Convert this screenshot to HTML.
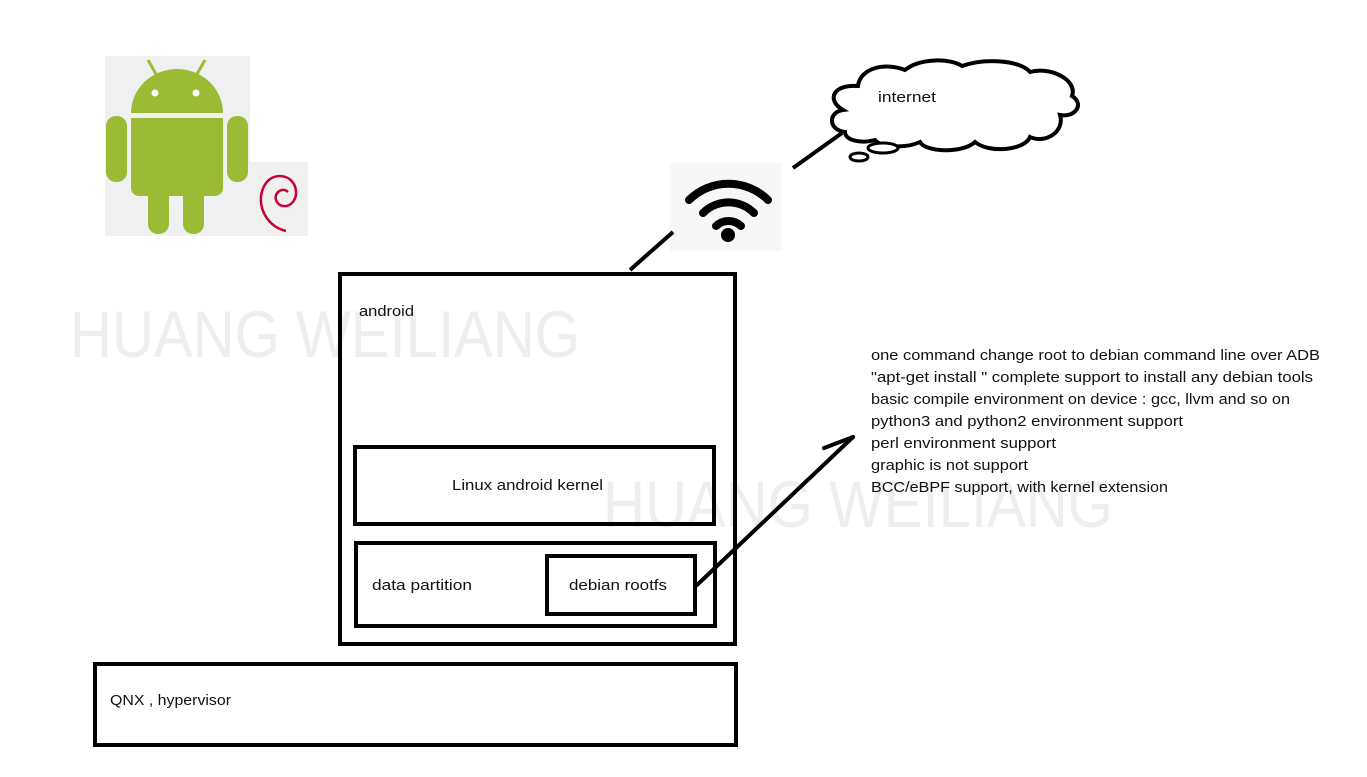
<!DOCTYPE html>
<html><head><meta charset="utf-8"><style>
html,body{margin:0;padding:0;background:#fff;}
svg{display:block;}
text{font-family:"Liberation Sans",sans-serif;fill:#111;}
</style></head><body>
<svg width="1367" height="777" viewBox="0 0 1367 777" xmlns="http://www.w3.org/2000/svg">
<rect width="1367" height="777" fill="#fff"/>
<!-- watermarks -->
<text x="70" y="357" font-size="66" textLength="510" lengthAdjust="spacingAndGlyphs" style="fill:#eeeeee">HUANG WEILIANG</text>
<text x="603" y="527" font-size="66" textLength="510" lengthAdjust="spacingAndGlyphs" style="fill:#eeeeee">HUANG WEILIANG</text>

<!-- android icon -->
<rect x="105" y="56" width="145" height="180" fill="#f0f0f0"/>
<g fill="#9bbb34">
<path d="M131 113 A46 44 0 0 1 223 113 Z"/>
<rect x="131" y="118" width="92" height="78" rx="8"/>
<rect x="106" y="116" width="21" height="66" rx="10"/>
<rect x="227" y="116" width="21" height="66" rx="10"/>
<rect x="148" y="180" width="21" height="54" rx="10"/>
<rect x="183" y="180" width="21" height="54" rx="10"/>
</g>
<rect x="131" y="118" width="92" height="10" fill="#9bbb34"/>
<line x1="148" y1="60" x2="156" y2="74" stroke="#9bbb34" stroke-width="3"/>
<line x1="205" y1="60" x2="197" y2="74" stroke="#9bbb34" stroke-width="3"/>
<circle cx="155" cy="93" r="3.5" fill="#fff"/>
<circle cx="196" cy="93" r="3.5" fill="#fff"/>
<!-- debian -->
<rect x="248" y="162" width="60" height="74" fill="#f0f0f0"/>
<path d="M286 231 C264 226 254 200 266 183 C276 170 297 176 296 194 C295 206 282 210 277 202 C272 194 282 186 288 192" fill="none" stroke="#c70036" stroke-width="2.5"/>

<!-- wifi -->
<rect x="670" y="163" width="112" height="88" fill="#f7f7f7"/>
<g fill="none" stroke="#000" stroke-width="8" stroke-linecap="round">
<path d="M689 200 A56 56 0 0 1 768 200"/>
<path d="M703 213 A36 36 0 0 1 754 213"/>
<path d="M716 226 A18 18 0 0 1 741 226"/>
</g>
<circle cx="728" cy="235" r="7" fill="#000"/>
<line x1="630" y1="270" x2="673" y2="232" stroke="#000" stroke-width="4"/>
<line x1="793" y1="168" x2="842" y2="133" stroke="#000" stroke-width="4"/>

<!-- cloud -->
<path d="M845 132 C828 130 828 112 843 110 C826 100 833 84 858 86 C860 68 885 62 905 70 C920 58 950 58 962 66 C985 58 1020 60 1030 72 C1050 66 1078 80 1072 96 C1085 104 1075 118 1060 115 C1065 132 1045 144 1030 137 C1025 150 990 154 975 142 C962 154 925 152 920 142 C905 149 880 147 875 140 C860 144 845 140 845 132 Z" fill="#fff" stroke="#000" stroke-width="4"/>
<ellipse cx="883" cy="148" rx="15" ry="5" fill="#fff" stroke="#000" stroke-width="3"/>
<ellipse cx="859" cy="157" rx="9" ry="4" fill="#fff" stroke="#000" stroke-width="3"/>
<text x="878" y="102" font-size="15" textLength="58" lengthAdjust="spacingAndGlyphs">internet</text>

<!-- boxes -->
<g fill="none" stroke="#000" stroke-width="4">
<rect x="340" y="274" width="395" height="370"/>
<rect x="355" y="447" width="359" height="77"/>
<rect x="356" y="543" width="359" height="83"/>
<rect x="547" y="556" width="148" height="58"/>
<rect x="95" y="664" width="641" height="81"/>
</g>
<text x="359" y="316" font-size="15" textLength="55" lengthAdjust="spacingAndGlyphs">android</text>
<text x="452" y="490" font-size="15" textLength="151" lengthAdjust="spacingAndGlyphs">Linux android  kernel</text>
<text x="372" y="590" font-size="15" textLength="100" lengthAdjust="spacingAndGlyphs">data partition</text>
<text x="569" y="590" font-size="15" textLength="98" lengthAdjust="spacingAndGlyphs">debian rootfs</text>
<text x="110" y="705" font-size="15" textLength="121" lengthAdjust="spacingAndGlyphs">QNX , hypervisor</text>

<!-- arrow -->
<g stroke="#000" stroke-width="4" stroke-linecap="round" fill="none">
<line x1="697" y1="585" x2="853" y2="437"/>
<line x1="853" y1="437" x2="824" y2="448"/>
</g>

<!-- notes -->
<g font-size="15">
<text x="871" y="360" textLength="449" lengthAdjust="spacingAndGlyphs">one command change root to debian command line over ADB</text>
<text x="871" y="382" textLength="442" lengthAdjust="spacingAndGlyphs">"apt-get install " complete support to install any debian tools</text>
<text x="871" y="404" textLength="419" lengthAdjust="spacingAndGlyphs">basic compile environment on device : gcc, llvm and so on</text>
<text x="871" y="426" textLength="312" lengthAdjust="spacingAndGlyphs">python3 and python2 environment support</text>
<text x="871" y="448" textLength="185" lengthAdjust="spacingAndGlyphs">perl environment support</text>
<text x="871" y="470" textLength="157" lengthAdjust="spacingAndGlyphs">graphic is not support</text>
<text x="871" y="492" textLength="297" lengthAdjust="spacingAndGlyphs">BCC/eBPF support, with kernel extension</text>
</g>
</svg>
</body></html>
